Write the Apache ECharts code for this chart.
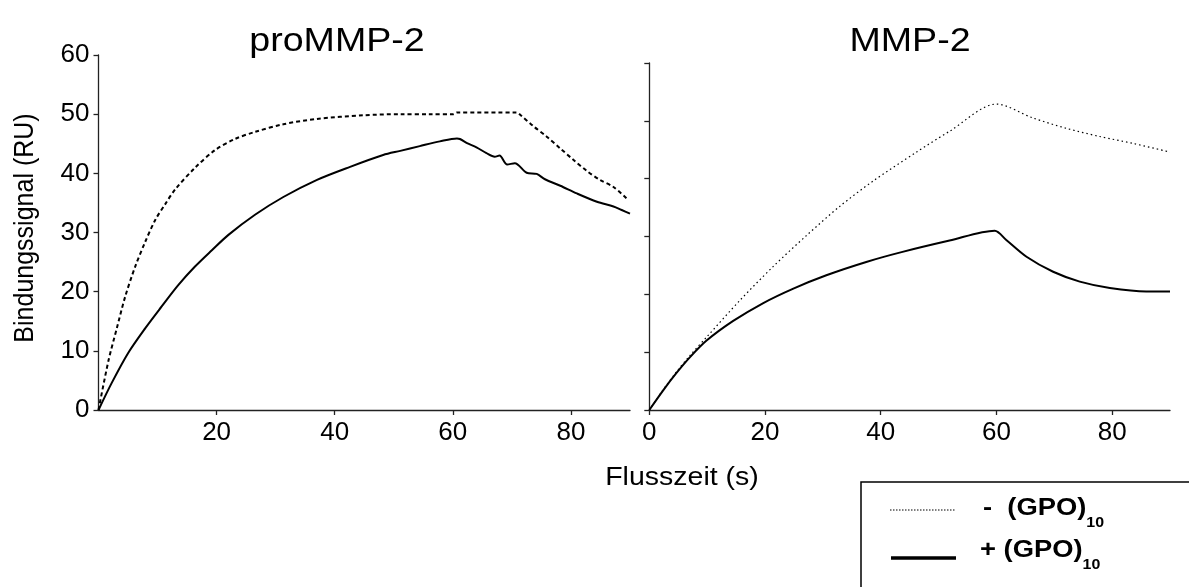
<!DOCTYPE html>
<html>
<head>
<meta charset="utf-8">
<script src="https://cdn.jsdelivr.net/npm/echarts@6/dist/echarts.min.js"></script>
<style>
  html, body { margin: 0; padding: 0; background: #fff; }
  #chart { width: 1189px; height: 587px; }
</style>
</head>
<body>
<div id="chart"></div>
<script>
// proMMP-2, without (GPO)10
const proMinusTime   = [0, 1.7, 3.1, 4.5, 6.2, 7.9, 9.6, 11.3, 13.0, 16.3, 19.7, 23.1, 26.5, 31.3, 37.0, 44.8, 51.1, 56.1, 60.0, 60.7, 70.8, 71.4, 73.6, 75.9, 78.2, 80.4, 82.7, 84.9, 87.2, 89.7];
const proMinusSignal = [0, 8.4, 13.8, 19.1, 24.2, 28.4, 32.1, 34.8, 37.3, 40.9, 43.9, 45.8, 47.0, 48.3, 49.2, 49.8, 50.0, 50.0, 50.0, 50.3, 50.3, 49.9, 48.0, 46.2, 44.2, 42.3, 40.4, 38.9, 37.7, 35.5];
// proMMP-2, with (GPO)10
const proPlusTime    = [0, 2.2, 5.0, 7.9, 10.7, 13.5, 16.3, 19.2, 22.0, 26.5, 31.3, 37.0, 42.6, 48.2, 51.1, 54.4, 57.8, 60.7, 61.2, 62.4, 64.0, 65.7, 67.1, 67.9, 69.2, 70.5, 72.5, 74.2, 75.6, 78.2, 81.0, 84.4, 87.2, 88.6, 90];
const proPlusSignal  = [0, 4.5, 9.6, 13.8, 17.5, 21.1, 24.2, 27.0, 29.6, 33.0, 36.0, 38.9, 41.1, 43.1, 43.8, 44.6, 45.4, 45.9, 45.8, 45.1, 44.4, 43.4, 42.8, 43.0, 41.5, 41.7, 40.1, 39.9, 39.0, 37.9, 36.6, 35.2, 34.4, 33.8, 33.2];
// MMP-2, without (GPO)10
const mmpMinusTime   = [0, 2.4, 4.7, 7.0, 9.9, 15.7, 21.4, 27.2, 32.9, 38.7, 46.2, 51.9, 60.0, 66.3, 72.1, 77.8, 83.6, 90];
const mmpMinusSignal = [0, 3.5, 6.6, 9.4, 12.6, 19.0, 24.8, 30.2, 35.2, 39.6, 44.6, 48.2, 52.9, 50.5, 48.7, 47.3, 46.1, 44.6];
// MMP-2, with (GPO)10
const mmpPlusTime    = [0, 2.4, 4.7, 7.0, 9.9, 14.5, 19.7, 24.9, 30.6, 37.5, 43.6, 51.9, 59.7, 61.7, 65.2, 69.8, 74.4, 79.6, 85.9, 90];
const mmpPlusSignal  = [0, 3.4, 6.4, 9.1, 12.0, 15.4, 18.5, 21.0, 23.3, 25.6, 27.3, 29.3, 31.0, 29.4, 26.5, 23.9, 22.2, 21.1, 20.5, 20.5];

const panelTitles   = ['proMMP-2', 'MMP-2'];
const leftXTicks    = [20, 40, 60, 80];
const rightXTicks   = [0, 20, 40, 60, 80];
const yAxisName     = 'Bindungssignal (RU)';
const xAxisName     = 'Flusszeit (s)';
const legendLabels  = ['-  (GPO)', '+ (GPO)'];
const legendSub     = '10';

const FONT = '"Liberation Sans", Arial, Helvetica, sans-serif';
const SX = 1.14;  // text is set slightly wide
const AXIS_COLOR = '#222';

const zip = (xs, ys) => xs.map((x, i) => [x, ys[i]]);

function measure(text, font) {
  const ctx = document.createElement('canvas').getContext('2d');
  ctx.font = font;
  return ctx.measureText(text).width;
}

function xAxisFor(grid, ticks) {
  return {
    gridIndex: grid, type: 'value', min: 0, max: 90, interval: 20,
    axisLine: { show: true, onZero: false, lineStyle: { color: AXIS_COLOR, width: 1.3 } },
    axisTick: { show: true, customValues: ticks, length: 5, lineStyle: { color: AXIS_COLOR, width: 1.3 } },
    axisLabel: { customValues: ticks, fontSize: 26, color: '#000', fontFamily: FONT, margin: 10 },
    splitLine: { show: false }
  };
}
function yAxisFor(grid, showLabels) {
  return {
    gridIndex: grid, type: 'value', min: 0, max: 60, interval: 10,
    axisLine: { show: true, onZero: false, lineStyle: { color: AXIS_COLOR, width: 1.3 } },
    axisTick: { show: true, length: 5, lineStyle: { color: AXIS_COLOR, width: 1.3 } },
    axisLabel: { show: showLabels, fontSize: 26, color: '#000', fontFamily: FONT, margin: 9 },
    splitLine: { show: false }
  };
}
function lineSeries(xi, data, width, dash) {
  return {
    type: 'line', xAxisIndex: xi, yAxisIndex: xi, data: data,
    showSymbol: false, symbol: 'none', smooth: 0.3,
    lineStyle: { color: '#000', width: width, type: dash },
    silent: true, animation: false
  };
}

const legendFont = 'bold 24px ' + FONT;
const subOffsets = legendLabels.map(t => measure(t, legendFont) * SX);
const legendRowsY = [508, 550];
const legendTextX = [983, 980];

const chart = echarts.init(document.getElementById('chart'));
chart.setOption({
  backgroundColor: '#fff',
  animation: false,
  grid: [
    { left: 98.5, top: 55, width: 531.5, height: 355 },
    { left: 649.3, top: 63, width: 520.7, height: 347 }
  ],
  xAxis: [xAxisFor(0, leftXTicks), xAxisFor(1, rightXTicks)],
  yAxis: [yAxisFor(0, true), yAxisFor(1, false)],
  series: [
    lineSeries(0, zip(proMinusTime, proMinusSignal), 2, [4, 3]),
    lineSeries(0, zip(proPlusTime, proPlusSignal), 2, 'solid'),
    lineSeries(1, zip(mmpMinusTime, mmpMinusSignal), 1.2, [1.5, 3]),
    lineSeries(1, zip(mmpPlusTime, mmpPlusSignal), 2, 'solid')
  ],
  graphic: [
    { type: 'text', x: 337, y: 42, scaleX: SX,
      style: { text: panelTitles[0], font: '33px ' + FONT, fill: '#000', textAlign: 'center', textVerticalAlign: 'middle' } },
    { type: 'text', x: 910, y: 42, scaleX: SX,
      style: { text: panelTitles[1], font: '33px ' + FONT, fill: '#000', textAlign: 'center', textVerticalAlign: 'middle' } },
    { type: 'text', x: 25, y: 228, rotation: Math.PI / 2, scaleY: SX,
      style: { text: yAxisName, font: '25px ' + FONT, fill: '#000', textAlign: 'center', textVerticalAlign: 'middle' } },
    { type: 'text', x: 682, y: 478, scaleX: SX,
      style: { text: xAxisName, font: '25px ' + FONT, fill: '#000', textAlign: 'center', textVerticalAlign: 'middle' } },
    // legend box
    { type: 'rect', shape: { x: 861, y: 482, width: 400, height: 200 },
      style: { fill: '#fff', stroke: '#000', lineWidth: 1.5 } },
    { type: 'line', shape: { x1: 890, y1: 510, x2: 956, y2: 510 },
      style: { stroke: '#000', lineWidth: 1.2, lineDash: [1.5, 1.5] } },
    { type: 'line', shape: { x1: 891, y1: 558, x2: 956, y2: 558 },
      style: { stroke: '#000', lineWidth: 3.5 } },
    ...legendLabels.flatMap((label, i) => [
      { type: 'text', x: legendTextX[i], y: legendRowsY[i], scaleX: SX,
        style: { text: label, font: legendFont, fill: '#000', textAlign: 'left', textVerticalAlign: 'middle' } },
      { type: 'text', x: legendTextX[i] + subOffsets[i], y: legendRowsY[i] + 15, scaleX: SX,
        style: { text: legendSub, font: 'bold 14px ' + FONT, fill: '#000', textAlign: 'left', textVerticalAlign: 'middle' } }
    ])
  ]
});
</script>
</body>
</html>
